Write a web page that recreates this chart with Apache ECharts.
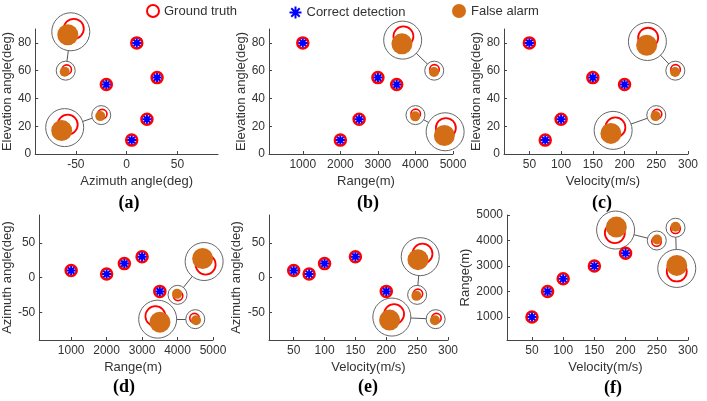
<!DOCTYPE html>
<html>
<head>
<meta charset="utf-8">
<script src="https://cdn.jsdelivr.net/npm/echarts@6/dist/echarts.min.js"></script>
<style>
  html, body { margin: 0; padding: 0; background: #fff; }
  #chart { width: 707px; height: 401px; }
</style>
</head>
<body>
<div id="chart"></div>
<script>
// targets that were detected correctly (estimate sits on the ground truth)
const hitAzimuth = [10, 5, 20, 30, -20];
const hitElevation = [80, 10, 25, 55, 50];
const hitRange = [1000, 2000, 2500, 3000, 3500];
const hitVelocity = [50, 75, 100, 150, 200];

// false alarms
const falseAzimuth = [-25, -60];
const falseElevation = [28, 60];
const falseRange = [4000, 4500];
const falseVelocity = [250, 280];

// where the magnified view of each false alarm is drawn, per panel
const zoomAzEl = [[-61, 19], [-55, 88]];
const zoomRangeEl = [[4790, 16], [3660, 82]];
const zoomVelEl = [[182, 17], [236, 81]];
const zoomRangeAz = [[4750, 23], [3440, -60]];
const zoomVelAz = [[255, 30], [209, -57]];
const zoomVelRange = [[184, 4410], [282, 2905]];

const azimuthTicks = [-50, 0, 50];
const elevationTicks = [0, 20, 40, 60, 80];
const rangeTicks = [1000, 2000, 3000, 4000, 5000];
const velocityTicks = [50, 100, 150, 200, 250, 300];

const RED = '#ff0000';
const BLUE = '#0000ff';
const ORANGE = '#d46e16';
const TEXT = '#333';
const FONT = '"Liberation Sans", Arial, sans-serif';
const ASTERISK = 'path://M5,0L5,10M0,5L10,5M1.5,1.5L8.5,8.5M1.5,8.5L8.5,1.5';

const dims = {
  azimuth: { hit: hitAzimuth, fa: falseAzimuth, ticks: azimuthTicks, min: -90, max: 90, name: 'Azimuth angle(deg)' },
  elevation: { hit: hitElevation, fa: falseElevation, ticks: elevationTicks, min: 0, max: 90, name: 'Elevation angle(deg)' },
  range: { hit: hitRange, fa: falseRange, ticks: rangeTicks, min: 100, max: 5000, name: 'Range(m)' },
  velocity: { hit: hitVelocity, fa: falseVelocity, ticks: velocityTicks, min: 10, max: 300, name: 'Velocity(m/s)' },
};

// shift = pixel direction of the false estimate relative to its ground truth
const panels = [
  { x: 'azimuth', y: 'elevation', zoom: zoomAzEl, label: '(a)', labelAt: [129, 203],
    grid: { left: 35, top: 29, width: 183, height: 125 }, shift: [[-2, 2], [-2, 2]], yGap: 21, xPad: 10 },
  { x: 'range', y: 'elevation', zoom: zoomRangeEl, label: '(b)', labelAt: [368, 203],
    grid: { left: 269, top: 29, width: 184, height: 125 }, shift: [[-0.5, 2.5], [-0.5, 2.5]], yGap: 20, xPad: 5 },
  { x: 'velocity', y: 'elevation', zoom: zoomVelEl, label: '(c)', labelAt: [602, 203],
    grid: { left: 504, top: 29, width: 184, height: 125 }, shift: [[-1.5, 2], [-0.5, 2.5]], yGap: 20, xPad: 7 },
  { x: 'range', y: 'azimuth', zoom: zoomRangeAz, label: '(d)', labelAt: [124, 387],
    grid: { left: 35, top: 215, width: 178, height: 125 }, shift: [[-1, -2], [1.5, 2]], yGap: 21, xPad: 7 },
  { x: 'velocity', y: 'azimuth', zoom: zoomVelAz, label: '(e)', labelAt: [368, 387],
    grid: { left: 269, top: 215, width: 179, height: 125 }, shift: [[-1.5, 2], [-1.5, 2]], yGap: 26, xPad: 10 },
  { x: 'velocity', y: 'range', zoom: zoomVelRange, label: '(f)', labelAt: [613, 388],
    grid: { left: 507, top: 215, width: 181, height: 125 }, shift: [[0.5, -2], [0, -2]], yGap: 18, xPad: 8 },
];

function makeAxis(dim, i, isX, p) {
  const d = dims[dim];
  return {
    type: 'value',
    gridIndex: i,
    min: d.min,
    max: d.max,
    name: d.name,
    nameLocation: 'middle',
    nameGap: isX ? 21 : p.yGap,
    nameTextStyle: {
      color: TEXT, fontSize: 13, fontFamily: FONT,
      padding: isX ? [0, 0, 0, p.xPad * 2] : 0,
    },
    splitLine: { show: false },
    axisLine: { show: true, onZero: false, lineStyle: { color: '#444', width: 1 } },
    axisTick: { show: true, inside: true, length: 3, customValues: d.ticks, lineStyle: { color: '#444' } },
    axisLabel: {
      customValues: d.ticks, color: TEXT, fontSize: 12, fontFamily: FONT, margin: isX ? 5 : 4,
      formatter: (v) => String(v),
    },
  };
}

function scaled(v, k) {
  return [v[0] * k, v[1] * k];
}

function buildSeries(p, i) {
  const X = dims[p.x];
  const Y = dims[p.y];
  const hits = X.hit.map((v, k) => [v, Y.hit[k]]);
  const fas = X.fa.map((v, k) => [v, Y.fa[k]]);
  const base = { xAxisIndex: i, yAxisIndex: i, silent: true, animation: false };

  const truthMarks = hits.map((v) => ({ value: v, symbolSize: 11, itemStyle: { borderWidth: 2.5 } }))
    .concat(fas.map((v, k) => ({ value: v, symbolSize: 9.5, symbolOffset: scaled(p.shift[k], -0.5) })))
    .concat(p.zoom.map((v, k) => ({ value: v, symbolSize: 20, symbolOffset: scaled(p.shift[k], -1.5), itemStyle: { borderWidth: 1.8 } })));

  const alarmMarks = fas.map((v, k) => ({ value: v, symbolSize: 10, symbolOffset: scaled(p.shift[k], 0.5) }))
    .concat(p.zoom.map((v, k) => ({ value: v, symbolSize: 21, symbolOffset: scaled(p.shift[k], 1.5) })));

  return [
    Object.assign({
      type: 'lines', coordinateSystem: 'cartesian2d', z: 1,
      data: fas.map((v, k) => ({ coords: [v, p.zoom[k]] })),
      lineStyle: { color: '#555', width: 1, opacity: 1 },
    }, base),
    Object.assign({
      type: 'scatter', z: 2,
      data: fas.map((v) => ({ value: v, symbolSize: 19 }))
        .concat(p.zoom.map((v) => ({ value: v, symbolSize: 38 }))),
      itemStyle: { color: '#fff', borderColor: '#666', borderWidth: 1, opacity: 1 },
    }, base),
    Object.assign({
      type: 'scatter', name: 'Ground truth', z: 3, data: truthMarks,
      itemStyle: { color: '#fff', borderColor: RED, borderWidth: 1.6, opacity: 1 },
    }, base),
    Object.assign({
      type: 'scatter', name: 'False alarm', z: 4, data: alarmMarks,
      itemStyle: { color: ORANGE, opacity: 1 },
    }, base),
    Object.assign({
      type: 'scatter', name: 'Correct detection', z: 5, data: hits,
      symbol: ASTERISK, symbolSize: 9,
      itemStyle: { color: 'none', borderColor: BLUE, borderWidth: 2, opacity: 1 },
    }, base),
  ];
}

function legendAt(left, item, size) {
  return {
    left: left, top: 4, padding: 0, itemWidth: size, itemHeight: size, itemGap: 0,
    selectedMode: false,
    textStyle: { color: TEXT, fontSize: 13, fontFamily: FONT },
    data: [item],
  };
}

const option = {
  animation: false,
  backgroundColor: '#fff',
  grid: panels.map((p) => Object.assign({ containLabel: false }, p.grid)),
  xAxis: panels.map((p, i) => makeAxis(p.x, i, true, p)),
  yAxis: panels.map((p, i) => makeAxis(p.y, i, false, p)),
  legend: [
    legendAt(146, { name: 'Ground truth', icon: 'circle', itemStyle: { color: '#fff', borderColor: RED, borderWidth: 2 } }, 12),
    legendAt(287, { name: 'Correct detection', icon: ASTERISK, itemStyle: { color: 'none', borderColor: BLUE, borderWidth: 2 } }, 12),
    legendAt(452, { name: 'False alarm', icon: 'circle', itemStyle: { color: ORANGE, opacity: 1 } }, 14),
  ],
  graphic: panels.map((p) => ({
    type: 'text',
    x: p.labelAt[0],
    y: p.labelAt[1],
    style: {
      text: p.label,
      font: 'bold 18px "Liberation Serif", "Times New Roman", serif',
      fill: '#000',
      align: 'center',
      verticalAlign: 'middle',
    },
  })),
  series: panels.flatMap(buildSeries),
};

const chart = echarts.init(document.getElementById('chart'));
chart.setOption(option);
</script>
</body>
</html>
